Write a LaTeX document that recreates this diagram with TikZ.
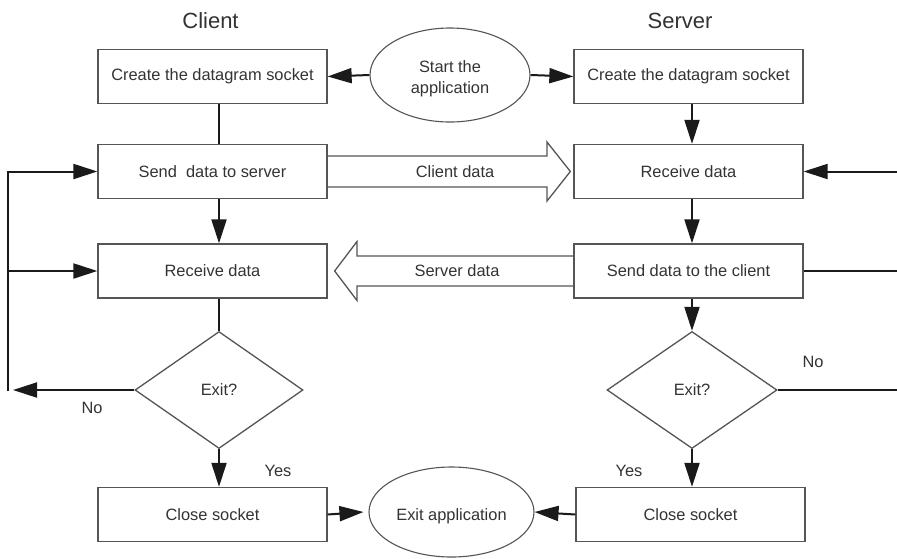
\documentclass[tikz,border=0pt]{standalone}
\usepackage{fontspec}
\setmainfont{Liberation Sans}
\usetikzlibrary{shapes.geometric,arrows.meta,calc}
\definecolor{txt}{HTML}{333333}
\definecolor{bord}{HTML}{555555}
\definecolor{ln}{HTML}{1A1A1A}
\tikzset{
  lbl/.style={text=txt,font=\fontsize{16.4}{20}\selectfont,inner sep=0pt},
  ttl/.style={text=txt,font=\fontsize{22}{26}\selectfont,inner sep=0pt},
  box/.style={lbl,draw=bord,line width=1.3pt,minimum width=229pt,minimum height=54pt},
  oval/.style={ellipse,draw=bord,line width=1.1pt},
  ovaltext/.style={lbl,align=center,yshift=-4pt},
  decide/.style={lbl,diamond,draw=bord,line width=1.3pt,minimum width=168pt,minimum height=117pt},
  conn/.style={draw=ln,line width=2pt},
  arr/.style={-{Triangle[length=24pt,width=15pt]}},
  blk/.style={draw=bord,line width=1.3pt,line join=miter}
}
\begin{document}
\begin{tikzpicture}[x=1pt,y=-1pt]
\useasboundingbox[fill=white] (0,0) rectangle (897,558);
% titles
\node[ttl] (tc) at (210.5,21) {Client};
\node[ttl] (ts) at (680,21) {Server};
% client column
\node[box] (cc) at (212.5,76.5) {Create the datagram socket};
\node[box] (cs) at (212.5,171.5) {Send\ \ data to server};
\node[box] (cr) at (212.5,271) {Receive data};
\node[decide] (cd) at (219,390) {Exit?};
\node[box] (cx) at (212.5,514.5) {Close socket};
% ovals
\node[oval,minimum width=160pt,minimum height=94pt,
  label={[ovaltext]center:Start the\\[1pt]application}] (st) at (450,75) {};
\node[oval,minimum width=165pt,minimum height=90pt,
  label={[ovaltext]center:Exit application}] (ex) at (451.5,512) {};
% server column
\node[box] (sc) at (688.5,76.5) {Create the datagram socket};
\node[box] (sr) at (688.5,171.5) {Receive data};
\node[box] (ss) at (688.5,271) {Send data to the client};
\node[decide,minimum width=170pt] (sd) at (692,390) {Exit?};
\node[box] (sx) at (690.5,514.5) {Close socket};
% labels
\node[lbl] (cyes) at (278,471) {Yes};
\node[lbl] (cno) at (92,408) {No};
\node[lbl] (syes) at (629,471) {Yes};
\node[lbl] (sno) at (813,362) {No};
% block arrows
\draw[blk] ($(cs.east)+(0,-15.5)$) -- (547,156) -- (547,142) -- ($(sr.west)+(-3,0)$)
  -- (547,201) -- (547,187) -- ($(cs.east)+(0,15.5)$);
\node[lbl] (cdl) at (455,171.5) {Client data};
\draw[blk] ($(ss.west)+(0,-15)$) -- (357,256) -- (357,241.5) -- ($(cr.east)+(7,0)$)
  -- (357,300.5) -- (357,286) -- ($(ss.west)+(0,15)$);
\node[lbl] (sdl) at (457,271) {Server data};
% start / exit connectors
\draw[conn,arr] (st.west) -- (cc.east);
\draw[conn,arr] (st.east) -- (sc.west);
\draw[conn,arr] (cx.east) -- ($(ex.west)+(-5,0)$);
\draw[conn,arr] (sx.west) -- (ex.east);
% client flow
\draw[conn] (cc.south -| cd.north) -- (cs.north -| cd.north);
\draw[conn,arr] (cs.south -| cd.north) -- (cr.north -| cd.north);
\draw[conn] (cr.south -| cd.north) -- (cd.north);
\draw[conn,arr] (cd.south) -- (cx.north -| cd.south);
\coordinate (lb) at (8,391);
\coordinate (lx) at (13,390);
\draw[conn,arr] (cd.west) -- (lx);
\draw[conn,arr] (lb) |- (cs.west);
\draw[conn,arr] (cr.west -| lb) -- (cr.west);
% server flow
\draw[conn,arr] (sc.south -| sd.north) -- (sr.north -| sd.north);
\draw[conn,arr] (sr.south -| sd.north) -- (ss.north -| sd.north);
\draw[conn,arr] (ss.south -| sd.north) -- (sd.north);
\draw[conn,arr] (sd.south) -- (sx.north -| sd.south);
\coordinate (rt) at (897,171.5);
\coordinate (rm) at (897,271);
\coordinate (rb) at (897,390);
\draw[conn,arr] (rt) -- (sr.east);
\draw[conn] (ss.east) -- (rm);
\draw[conn] (sd.east) -- (rb);
\end{tikzpicture}
\end{document}
